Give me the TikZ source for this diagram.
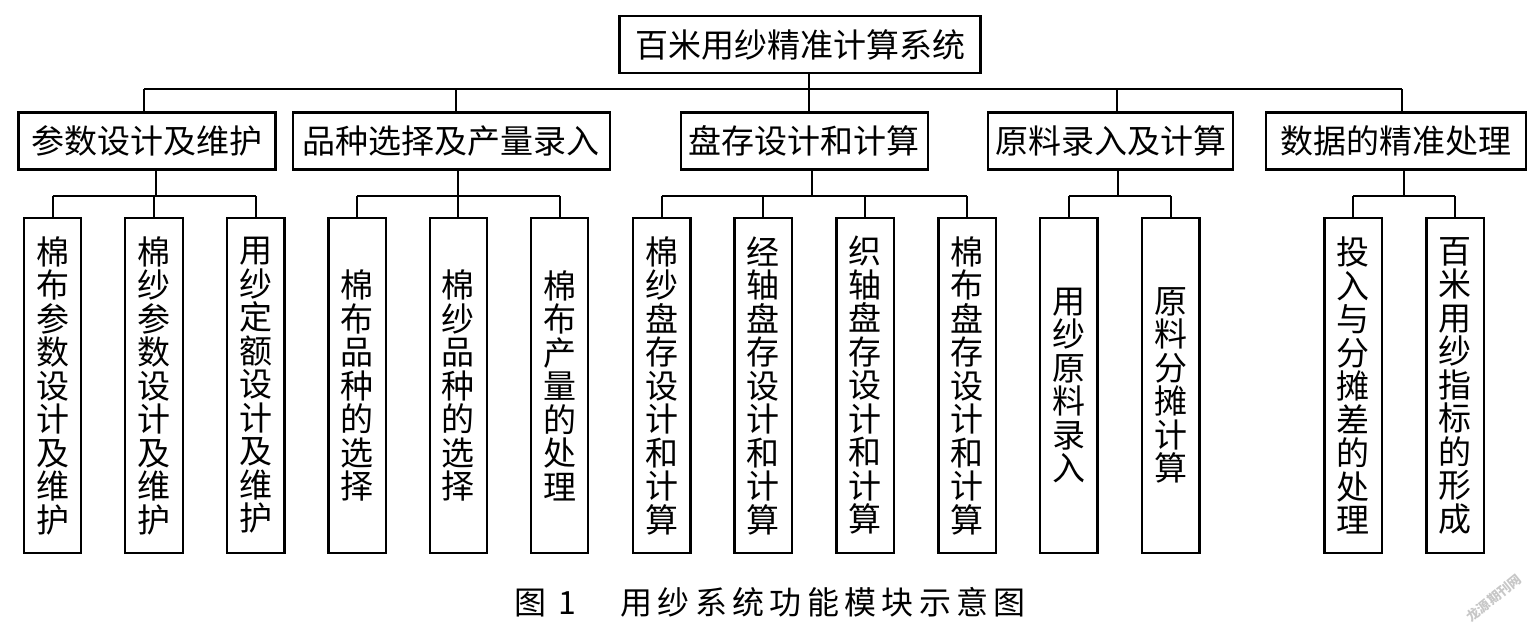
\documentclass[tikz,border=0pt]{standalone}
\usepackage{fontspec}
\setmainfont{Noto Sans CJK SC}
\newcommand\capch[1]{\makebox[37.3pt]{#1}}
\begin{document}
\begin{tikzpicture}[x=1pt,y=-1pt,
  every node/.style={font=\fontsize{33}{33.5}\selectfont, inner sep=0pt},
  box/.style={draw, line width=2.2pt, minimum height=57pt},
  leaf/.style={draw, line width=2.2pt, minimum width=57.5pt, minimum height=335pt, align=center, text width=33pt},
  conn/.style={line width=2pt}]
\useasboundingbox (0,0) rectangle (1538,638);
% top
\node[box, minimum width=361pt] (top) at (800,44.5) {百米用纱精准计算系统};
% level 1
\node[box, minimum width=257pt] (A) at (147,141) {参数设计及维护};
\node[box, minimum width=317pt] (B) at (451.4,141) {品种选择及产量录入};
\node[box, minimum width=247pt] (C) at (804.4,141) {盘存设计和计算};
\node[box, minimum width=245pt] (D) at (1110.5,141) {原料录入及计算};
\node[box, minimum width=260pt] (E) at (1396,141) {数据的精准处理};
% leaves
\node[leaf] (a1) at (52.5,385.5) {棉\\布\\参\\数\\设\\计\\及\\维\\护};
\node[leaf] (a2) at (154,385.5) {棉\\纱\\参\\数\\设\\计\\及\\维\\护};
\node[leaf] (a3) at (255.7,385.5) {用\\纱\\定\\额\\设\\计\\及\\维\\护};
\node[leaf] (b1) at (357.3,385.5) {棉\\布\\品\\种\\的\\选\\择};
\node[leaf] (b2) at (458.4,385.5) {棉\\纱\\品\\种\\的\\选\\择};
\node[leaf] (b3) at (559.5,385.5) {棉\\布\\产\\量\\的\\处\\理};
\node[leaf] (c1) at (661.8,385.5) {棉\\纱\\盘\\存\\设\\计\\和\\计\\算};
\node[leaf] (c2) at (763.3,385.5) {经\\轴\\盘\\存\\设\\计\\和\\计\\算};
\node[leaf] (c3) at (865.2,385.5) {织\\轴\\盘\\存\\设\\计\\和\\计\\算};
\node[leaf] (c4) at (967.2,385.5) {棉\\布\\盘\\存\\设\\计\\和\\计\\算};
\node[leaf] (d1) at (1068.8,385.5) {用\\纱\\原\\料\\录\\入};
\node[leaf] (d2) at (1170.7,385.5) {原\\料\\分\\摊\\计\\算};
\node[leaf] (e1) at (1353.3,385.5) {投\\入\\与\\分\\摊\\差\\的\\处\\理};
\node[leaf] (e2) at (1455.2,385.5) {百\\米\\用\\纱\\指\\标\\的\\形\\成};
% top bus
\coordinate (bA) at (144,89);
\coordinate (bB) at (456,89);
\coordinate (bC) at (809,89);
\coordinate (bD) at (1117,89);
\coordinate (bE) at (1402,89);
\draw[conn] (bC |- top.south) -- (bC);
\draw[conn] (bA) -- (bE);
\foreach \b/\n in {bA/A,bB/B,bC/C,bD/D,bE/E}
  \draw[conn] (\b) -- (\b |- \n.north);
% sub buses
\coordinate (sA) at (156,196);
\coordinate (sB) at (458.4,196);
\coordinate (sC) at (812,196);
\coordinate (sD) at (1118,196);
\coordinate (sE) at (1404,196);
\foreach \s/\n in {sA/A,sB/B,sC/C,sD/D,sE/E}
  \draw[conn] (\s |- \n.south) -- (\s);
\draw[conn] (sA -| a1) -- (sA -| a3);
\draw[conn] (sB -| b1) -- (sB -| b3);
\draw[conn] (sC -| c1) -- (sC -| c4);
\draw[conn] (sD -| d1) -- (sD -| d2);
\draw[conn] (sE -| e1) -- (sE -| e2);
\foreach \l/\s in {a1/sA,a2/sA,a3/sA,b1/sB,b2/sB,b3/sB,c1/sC,c2/sC,c3/sC,c4/sC,d1/sD,d2/sD,e1/sE,e2/sE}
  \draw[conn] (\s -| \l) -- (\l.north);
% caption
\node[font=\fontsize{32}{32}\selectfont, anchor=west] (cap) at (514,602) {图\hspace{12pt}1\hspace{42pt}\capch{用}\capch{纱}\capch{系}\capch{统}\capch{功}\capch{能}\capch{模}\capch{块}\capch{示}\capch{意}\capch{图}};
% watermark
\node[font=\fontsize{13}{13}\selectfont\bfseries, text=black!22, rotate=39] (wm) at (1494,598) {龙源期刊网};
\end{tikzpicture}
\end{document}
